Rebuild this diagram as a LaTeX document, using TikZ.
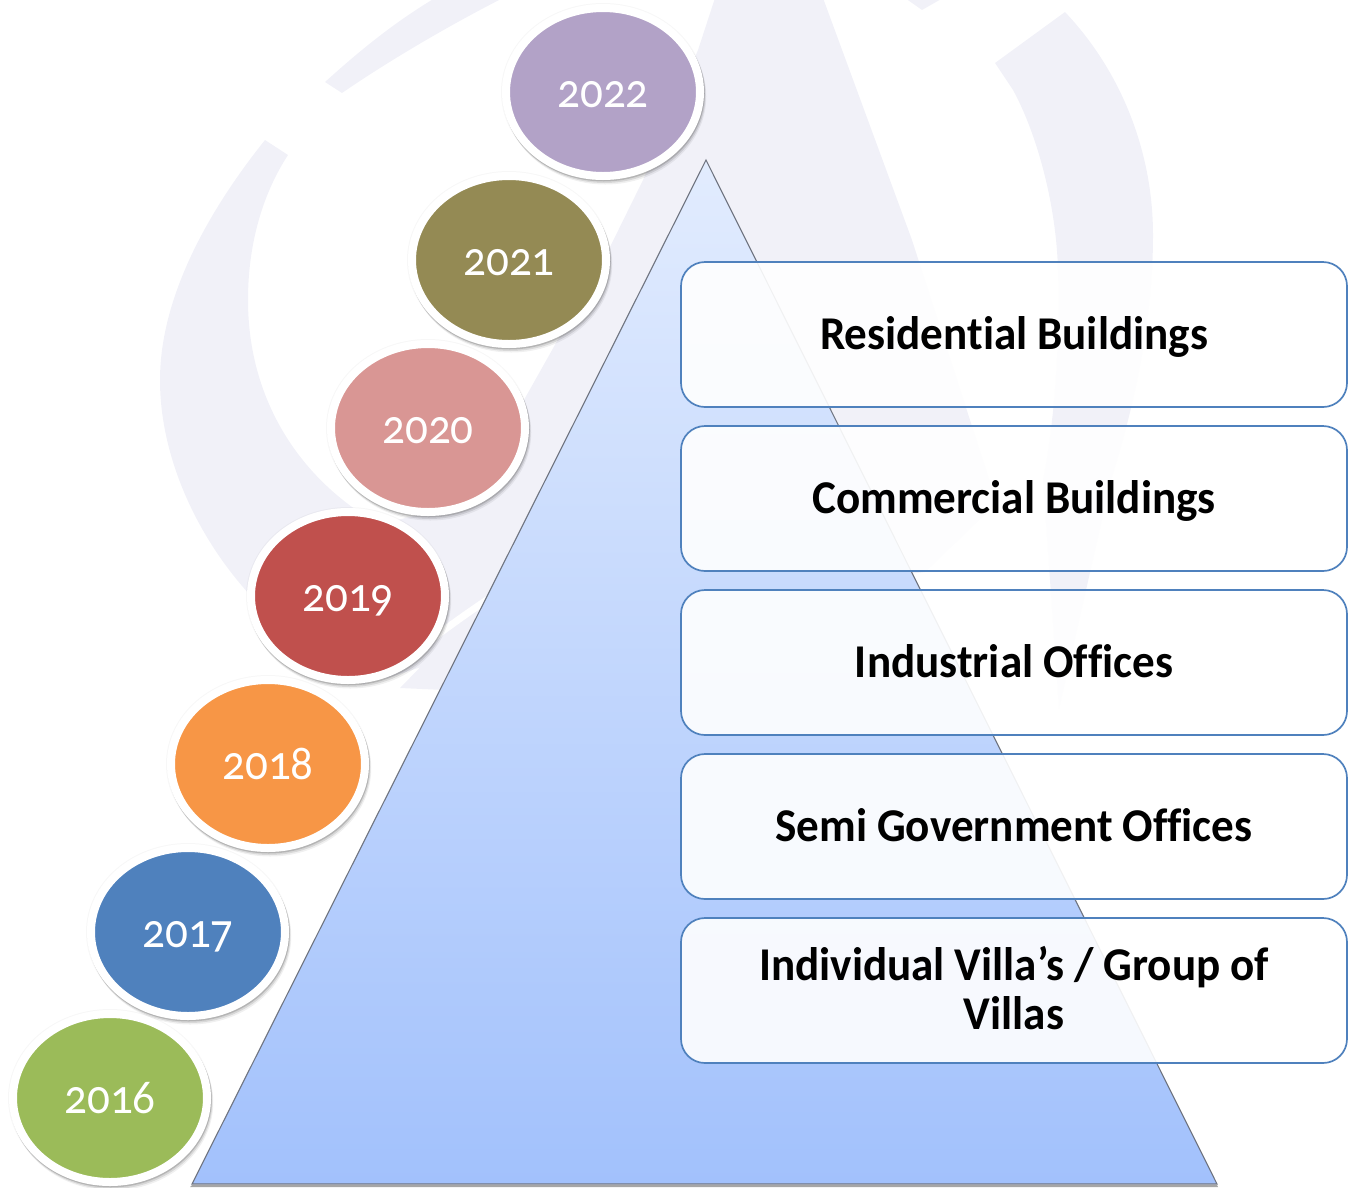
\documentclass[tikz,border=0pt]{standalone}
\usepackage{fontspec}
\setmainfont{Carlito}
\newfontfamily\yearfont[Numbers=OldStyle,FakeStretch=0.92]{Carlito}
\newfontfamily\labelfont[FakeStretch=0.96,Ligatures=NoCommon]{Carlito}
\usetikzlibrary{shapes.geometric}
\definecolor{wm}{HTML}{F1F1F8}
\definecolor{boxline}{HTML}{4F81BD}
\definecolor{triline}{HTML}{6F7480}
\definecolor{tritop}{HTML}{E2ECFE}
\definecolor{tribot}{HTML}{A2C1FC}
\definecolor{ygreen}{HTML}{9BBB59}
\definecolor{yblue}{HTML}{4F81BD}
\definecolor{yorange}{HTML}{F79646}
\definecolor{yred}{HTML}{C0504D}
\definecolor{ypink}{HTML}{D99694}
\definecolor{yolive}{HTML}{948A54}
\definecolor{ypurple}{HTML}{B2A2C7}
\tikzset{
  shadowring/.style 2 args={preaction={draw=black,draw opacity=#2,fill=none,transform canvas={xshift=0.5*#1,yshift=-#1}}},
  yearnode/.style={ellipse,draw=white,line width=8pt,fill=#1,minimum width=194pt,minimum height=168pt,inner sep=0pt,
    text=white,font=\yearfont\fontsize{49}{49}\selectfont,
    preaction={draw=black,draw opacity=.03,line width=10pt,fill=none},
    shadowring={4.5pt}{.06},shadowring={3pt}{.10},shadowring={1.5pt}{.14}},
  itembox/.style={rectangle,rounded corners=24pt,draw=boxline,line width=1.7pt,fill=white,fill opacity=.9,text opacity=1,
    minimum width=666pt,minimum height=145pt,inner sep=0pt,text width=620pt,align=center,text=black,
    font=\labelfont\bfseries\fontsize{47}{49}\selectfont},
  wmark/.style={fill=wm,draw=none}
}
\newcommand{\yearlabel}[1]{\rule[-10pt]{0pt}{51pt}#1}
\newcommand{\boxstrut}{\spaceskip=10pt\relax\rule[-10pt]{0pt}{49pt}}
\begin{document}
\begin{tikzpicture}[x=1pt,y=-1pt]
\useasboundingbox (0,0) rectangle (1355,1187);
% watermark
\fill[wmark] (265,140) .. controls (205,215) and (160,300) .. (160,380)
  .. controls (160,470) and (210,560) .. (270,615) .. controls (300,645) and (330,665) .. (365,685)
  -- (600,610) -- (925,572) -- (1000,500) -- (989,479) -- (912,240) -- (823,-2) -- (715,-2)
  -- (698,50) -- (643,180) -- (610,247) -- (520,407) -- (470,500) -- (380,525)
  .. controls (300,480) and (248,400) .. (248,300) .. controls (248,245) and (262,195) .. (288,155) -- cycle;
\fill[wmark] (400,688) -- (473,613) -- (495,600) -- (445,690) -- cycle;
\fill[wmark] (325,82) .. controls (355,55) and (390,25) .. (435,-2) -- (503,-2) .. controls (450,25) and (390,60) .. (342,93) -- cycle;
\fill[wmark] (905,-2) -- (922,10) -- (943,-2) -- cycle;
\fill[wmark] (995,63) -- (1065,12) .. controls (1120,70) and (1153,150) .. (1153,235)
  .. controls (1153,330) and (1130,420) .. (1111,480) -- (1059,709) -- (1043,480)
  .. controls (1055,420) and (1060,340) .. (1058,270) .. controls (1056,200) and (1035,130) .. (1013,90) -- cycle;
\draw[white,line width=7pt,line cap=round] (510,585) .. controls (470,610) and (430,640) .. (405,660) -- (365,688);
% pyramid
\fill[black,opacity=.35] (192,1185) -- (1217,1185) -- (1218,1187) -- (190,1187) -- cycle;
\path[shade,top color=tritop,bottom color=tribot,draw=triline,line width=1.1pt]
  (706,160) -- (1217,1184) -- (192,1184) -- cycle;
% boxes
\node[itembox] (b1) at (1014,334.5) {\boxstrut Residential Buildings};
\node[itembox] (b2) at (1014,498.5) {\boxstrut Commercial Buildings};
\node[itembox] (b3) at (1014,662.5) {\boxstrut Industrial Offices};
\node[itembox] (b4) at (1014,826.5) {\boxstrut Semi Government Offices};
\node[itembox] (b5) at (1014,990.5) {\boxstrut Individual Villa’s / Group of\\\boxstrut Villas};
% years
\node[yearnode=ygreen] (y16) at (110,1098) {\yearlabel{2016}};
\node[yearnode=yblue] (y17) at (188,932) {\yearlabel{2017}};
\node[yearnode=yorange] (y18) at (268,764) {\yearlabel{2018}};
\node[yearnode=yred] (y19) at (348,596) {\yearlabel{2019}};
\node[yearnode=ypink] (y20) at (428,428) {\yearlabel{2020}};
\node[yearnode=yolive] (y21) at (509,260) {\yearlabel{2021}};
\node[yearnode=ypurple] (y22) at (603,92) {\yearlabel{2022}};
\end{tikzpicture}
\end{document}
